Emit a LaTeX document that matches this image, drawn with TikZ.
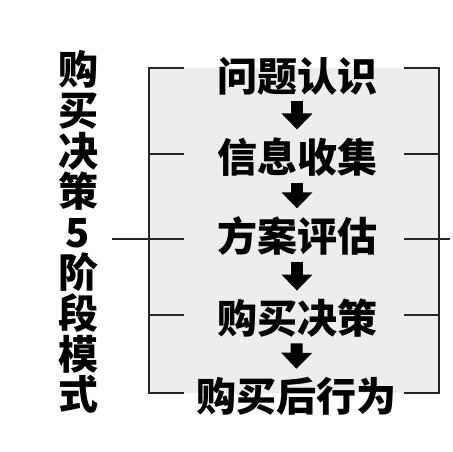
\documentclass[tikz,border=0pt]{standalone}
\usepackage{fontspec}
\newfontfamily\cjk{Noto Sans CJK SC}
\usetikzlibrary{arrows.meta,positioning}

\begin{document}
\begin{tikzpicture}[x=1pt,y=-1pt,
  stage/.style={font=\cjk\bfseries\fontsize{40}{40}\selectfont,inner sep=0pt},
  flow/.style={line width=12pt,-{Triangle[width=30pt,length=16pt]},
    shorten <=6pt,shorten >=8pt},
  brace/.style={line width=1.5pt,black!85}]
      \useasboundingbox (0,0) rectangle (453,452);
      \fill[black!7] (149,68) rectangle (439,393);

      \coordinate (p1) at (297,76);
      \coordinate (p2) at (297,157);
      \coordinate (p3) at (297,236);
      \coordinate (p4) at (297,318);
      \coordinate (p5) at (296,396);

      \node[stage] (s1) at (p1) {问题认识};
      \node[stage] (s2) at (p2) {信息收集};
      \node[stage] (s3) at (p3) {方案评估};
      \node[stage] (s4) at (p4) {购买决策};
      \node[stage] (s5) at (p5) {购买后行为};

      \draw[flow] (s1) -- (s2);
      \draw[flow] (s2) -- (s3);
      \draw[flow] (s3) -- (s4);
      \draw[flow] (s4) -- (s5);

      \node[stage,align=center,font=\cjk\bfseries\fontsize{40}{40.6}\selectfont]
        (title) at (78,232) {购\\买\\决\\策\\5\\阶\\段\\模\\式};

      % left bracket
      \draw[brace] (184,68) -- (149,68) -- (149,393) -- (184,393);
      \draw[brace] (149,154) -- (184,154);
      \draw[brace] (112,239) -- (184,239);
      \draw[brace] (149,315) -- (184,315);

      % right bracket
      \draw[brace] (404,68) -- (439,68) -- (439,393) -- (404,393);
      \draw[brace] (404,154) -- (439,154);
      \draw[brace] (404,239) -- (450,239);
      \draw[brace] (404,315) -- (439,315);
\end{tikzpicture}
\end{document}
